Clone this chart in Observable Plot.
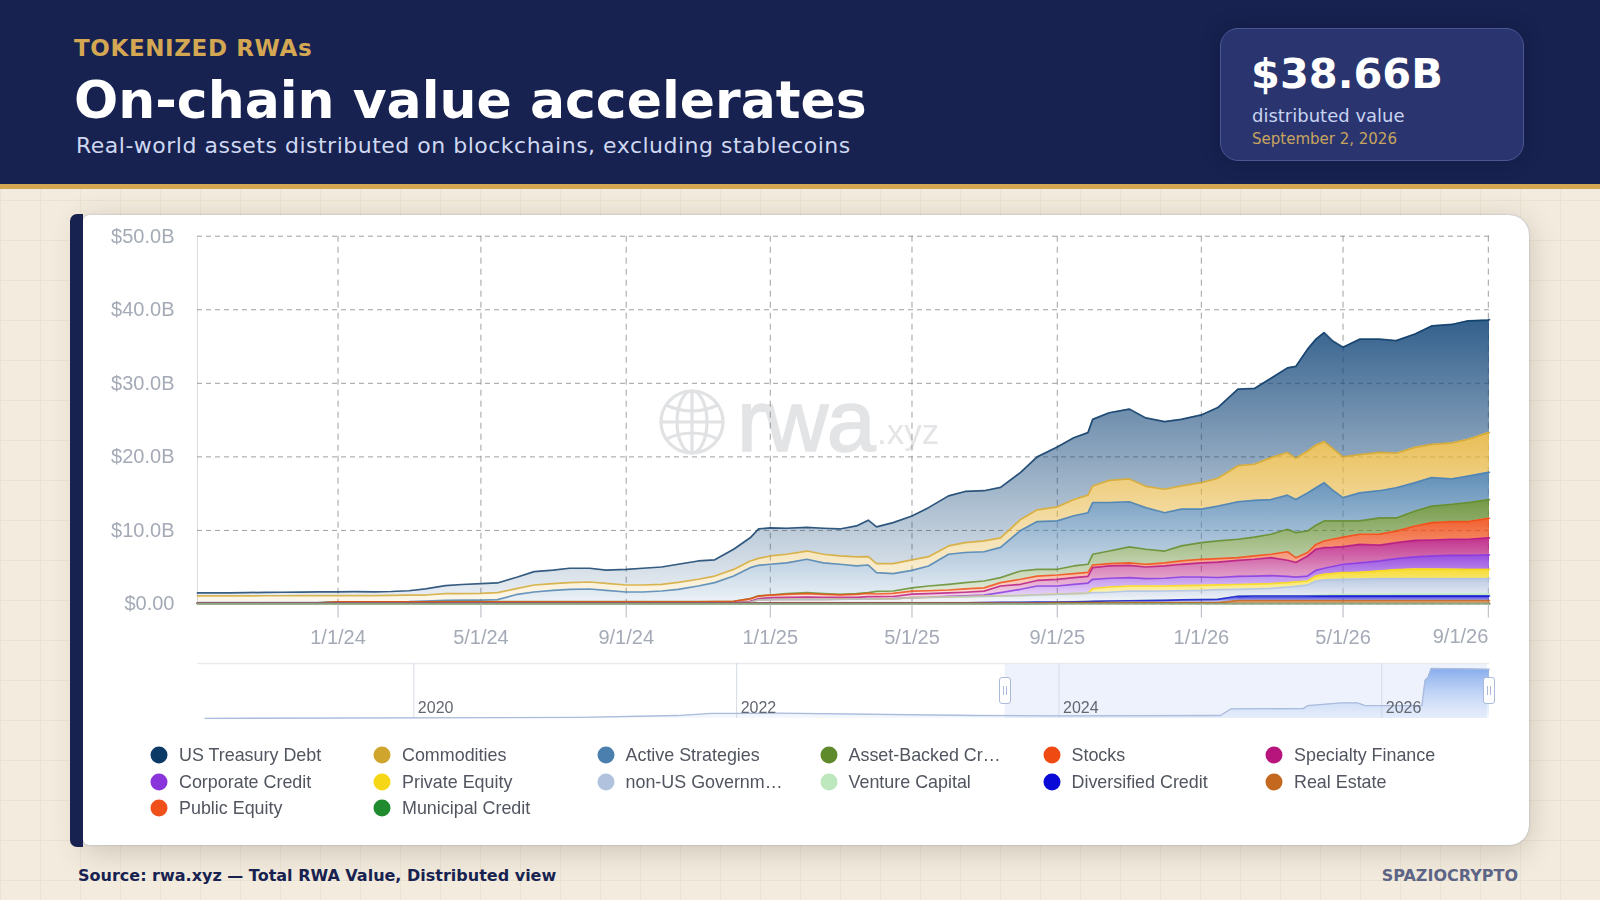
<!DOCTYPE html>
<html><head><meta charset="utf-8">
<script src="https://cdn.jsdelivr.net/npm/d3@7"></script>
<script src="https://cdn.jsdelivr.net/npm/@observablehq/plot@0.6"></script>
<style>
html,body{margin:0;padding:0;width:1600px;height:900px;overflow:hidden}
body{position:relative;font-family:"DejaVu Sans",sans-serif;background-color:#f3ecde;
background-image:linear-gradient(#ebe3d2 1px,transparent 1px),linear-gradient(90deg,#ebe3d2 1px,transparent 1px);
background-size:40px 40px;background-position:0 0}
.abs{position:absolute;white-space:nowrap}
#header{position:absolute;left:0;top:0;width:1600px;height:184px;background:#172250;border-bottom:5px solid #d4a853}
#kpi{position:absolute;left:1220px;top:28px;width:302px;height:131px;background:#2a356f;border:1.5px solid #4b5793;border-radius:18px;box-shadow:0 0 18px rgba(10,15,45,.35)}
#panel{position:absolute;left:83px;top:215px;width:1446px;height:630px;background:#fff;border-radius:6px 20px 20px 6px;box-shadow:0 6px 30px rgba(60,50,40,.22),0 0 2px rgba(90,110,170,.45)}
#bar{position:absolute;left:70px;top:214px;width:13px;height:633px;background:#172250;border-radius:7px 0 0 7px}
.chart{position:absolute;left:83px;filter:blur(.45px)}
.chart svg{display:block;background:transparent}
#legend div{position:absolute;font:17.9px "Liberation Sans",sans-serif;color:#50555f;white-space:nowrap;filter:blur(.3px);transform:translateY(-50%)}
#legend i{position:absolute;width:17px;height:17px;border-radius:50%;transform:translate(-50%,-50%)}
.handle{position:absolute;width:10px;height:25px;background:#fff;border:1.5px solid #aabad8;border-radius:3px;top:677px}
.handle:after{content:"";position:absolute;left:3px;top:8px;width:2px;height:9px;border-left:1px solid #aabad8;border-right:1px solid #aabad8}
</style></head><body>
<div id="header"></div>
<div class="abs" style="left:74px;top:34.5px;font-size:23px;font-weight:700;letter-spacing:.62px;color:#d4a853">TOKENIZED RWAs</div>
<div class="abs" style="left:74px;top:69px;font-size:52px;line-height:62px;font-weight:700;color:#fff">On-chain value accelerates</div>
<div class="abs" style="left:76px;top:133px;font-size:22px;letter-spacing:.5px;color:#cfd8f0">Real-world assets distributed on blockchains, excluding stablecoins</div>
<div id="kpi"></div>
<div class="abs" style="left:1251px;top:49px;font-size:41.5px;font-weight:700;color:#fff">$38.66B</div>
<div class="abs" style="left:1252px;top:105px;font-size:18px;color:#c9d3f2">distributed value</div>
<div class="abs" style="left:1252px;top:130px;font-size:15px;color:#c8a45e">September 2, 2026</div>
<div id="panel"></div>
<div id="bar"></div>
<svg class="abs" style="left:655px;top:385px;filter:blur(.5px)" width="74" height="74" viewBox="0 0 74 74" fill="none" stroke="#e1e2e4" stroke-width="3.2">
<circle cx="37" cy="37" r="31"/><ellipse cx="37" cy="37" rx="15" ry="31"/><path d="M37 6V68M6 37H68M11 20Q37 32 63 20M11 54Q37 42 63 54"/></svg>
<div class="abs" style="left:737px;top:370px;font:88px 'Liberation Sans',sans-serif;color:#e3e4e6;-webkit-text-stroke:1.6px #e3e4e6;letter-spacing:-1.6px;filter:blur(.6px)">rwa</div>
<div class="abs" style="left:877px;top:412px;font:35px 'Liberation Sans',sans-serif;color:#e4e5e7;filter:blur(.5px)">.xyz</div>
<div id="chart" class="chart" style="top:215px"></div>
<div id="mini" class="chart" style="top:655px"></div>
<div class="handle" style="left:999px"></div>
<div class="handle" style="left:1483px"></div>
<div id="legend"></div>
<div class="abs" style="left:78px;top:866px;font-size:16px;font-weight:700;color:#172250">Source: rwa.xyz — Total RWA Value, Distributed view</div>
<div class="abs" style="right:82px;top:866px;font-size:16px;font-weight:700;color:#5d6485">SPAZIOCRYPTO</div>
<script>
const dates = ["2023-09-04","2023-09-15","2023-10-01","2023-10-15","2023-11-01","2023-11-15","2023-12-01","2023-12-15",
"2024-01-01","2024-01-15","2024-02-01","2024-02-15","2024-03-01","2024-03-15","2024-04-01","2024-04-15","2024-05-01","2024-05-15","2024-06-01","2024-06-15","2024-07-01","2024-07-15","2024-08-01","2024-08-15","2024-09-01","2024-09-15","2024-10-01","2024-10-15","2024-11-01","2024-11-15","2024-12-01","2024-12-15","2024-12-22",
"2025-01-01","2025-01-15","2025-02-01","2025-02-15","2025-03-01","2025-03-15","2025-03-25","2025-04-01","2025-04-15","2025-05-01","2025-05-15","2025-06-01","2025-06-15","2025-07-01","2025-07-15","2025-08-01","2025-08-15","2025-09-01","2025-09-15","2025-09-27","2025-10-01","2025-10-15","2025-11-01","2025-11-15","2025-12-01","2025-12-15",
"2026-01-01","2026-01-15","2026-02-01","2026-02-15","2026-03-01","2026-03-15","2026-03-22","2026-04-01","2026-04-08","2026-04-15","2026-04-22","2026-05-01","2026-05-15","2026-06-01","2026-06-15","2026-07-01","2026-07-15","2026-08-01","2026-08-15","2026-09-01","2026-09-02"];

// Upper edge of each band, in $B (top band first)
const usTreasuryDebt = [1.50,1.50,1.52,1.55,1.58,1.60,1.62,1.64,1.65,1.68,1.66,1.70,1.80,2.05,2.50,2.65,2.76,2.86,3.67,4.40,4.60,4.86,4.86,4.60,4.70,4.86,5.03,5.40,5.85,6.00,7.44,9.00,10.20,
10.35,10.30,10.43,10.30,10.20,10.60,11.40,10.48,11.06,11.97,13.10,14.70,15.30,15.40,15.85,17.90,20.00,21.35,22.60,23.30,25.10,26.00,26.50,25.30,24.80,25.10,25.70,26.70,29.20,29.30,30.70,32.10,32.30,34.65,36.00,36.90,35.80,34.90,36.00,36.00,35.80,36.70,37.80,38.00,38.50,38.60,38.66];
const commodities = [1.10,1.10,1.10,1.10,1.12,1.12,1.13,1.13,1.14,1.14,1.15,1.16,1.20,1.22,1.42,1.42,1.45,1.54,2.13,2.58,2.76,2.90,2.99,2.80,2.58,2.58,2.68,2.95,3.36,3.80,4.70,5.85,6.20,
6.53,6.76,7.20,6.76,6.53,6.40,6.43,5.48,5.48,5.99,6.43,7.90,8.34,8.57,9.00,11.50,12.80,13.20,14.20,14.80,16.05,16.80,17.00,16.00,15.60,16.05,16.50,17.10,18.80,19.00,19.90,20.60,19.80,20.80,21.60,22.10,21.20,20.00,20.30,20.60,20.50,21.30,21.70,21.90,22.40,23.30,23.30];
const activeStrategies = [.18,.18,.18,.18,.18,.18,.18,.18,.30,.30,.30,.30,.32,.40,.50,.52,.54,.59,1.32,1.63,1.86,2.00,2.04,1.86,1.63,1.63,1.77,2.00,2.45,2.90,3.80,4.94,5.26,
5.40,5.60,6.08,5.60,5.40,5.17,5.30,4.26,4.12,4.58,5.17,6.76,7.00,7.10,7.70,10.00,11.20,11.30,12.00,12.40,13.80,13.80,13.90,13.10,12.40,12.90,12.90,13.30,13.90,14.10,14.20,14.80,14.20,15.10,15.80,16.50,15.50,14.46,15.10,15.40,15.80,16.50,17.20,17.00,17.40,17.90,17.90];
const assetBackedCredit = [.15,.15,.15,.15,.15,.15,.15,.15,.30,.30,.30,.30,.30,.30,.31,.31,.31,.31,.31,.31,.31,.31,.31,.31,.31,.31,.31,.31,.32,.33,.37,.72,1.10,
1.22,1.40,1.54,1.40,1.30,1.40,1.55,1.70,1.77,2.20,2.45,2.68,2.90,3.13,3.58,4.49,4.72,4.72,5.17,5.40,6.76,7.20,7.76,7.44,7.20,7.90,8.34,8.57,8.80,9.10,9.48,10.16,9.70,9.93,10.70,11.30,11.30,11.30,11.30,11.70,11.70,12.65,13.30,13.56,13.80,14.20,14.20];
const stocks = [.13,.13,.13,.13,.13,.13,.13,.13,.28,.28,.28,.28,.28,.28,.29,.29,.29,.29,.29,.29,.29,.29,.29,.29,.29,.29,.29,.29,.30,.31,.35,.70,1.08,
1.20,1.30,1.40,1.30,1.25,1.30,1.45,1.35,1.45,1.75,1.80,1.90,2.05,2.20,2.90,3.36,3.80,3.94,4.12,4.30,5.30,5.48,5.60,5.40,5.60,5.85,6.08,6.17,6.30,6.53,6.76,7.10,6.30,7.00,8.10,8.57,8.80,9.10,9.48,9.50,9.90,10.60,11.06,11.20,11.20,11.66,11.66];
const specialtyFinance = [.13,.13,.13,.13,.13,.13,.13,.13,.13,.13,.13,.13,.13,.13,.14,.14,.14,.14,.14,.14,.14,.14,.14,.14,.14,.14,.14,.14,.15,.16,.18,.35,.72,
.86,.90,.95,.92,.90,.90,1.00,1.00,1.02,1.35,1.40,1.50,1.60,1.75,2.45,2.68,3.20,3.36,3.58,3.75,4.94,5.17,5.26,5.03,5.17,5.40,5.60,5.70,5.94,6.08,6.30,5.95,5.65,6.53,7.44,7.66,7.70,7.80,8.10,8.00,8.34,8.66,8.70,8.80,8.80,9.00,9.00];
const corporateCredit = [.13,.13,.13,.13,.13,.13,.13,.13,.13,.13,.13,.13,.13,.13,.13,.13,.13,.13,.13,.13,.13,.13,.13,.13,.13,.13,.13,.13,.14,.15,.17,.30,.60,
.62,.63,.64,.64,.65,.65,.68,.68,.72,.87,.92,1.05,1.10,1.20,1.54,2.00,2.45,2.45,2.68,2.85,3.36,3.50,3.58,3.44,3.50,3.67,3.67,3.60,3.75,3.80,3.85,3.75,3.65,3.80,4.58,4.86,5.10,5.40,5.60,5.85,6.16,6.40,6.53,6.60,6.60,6.67,6.67];
const privateEquity = [.13,.13,.13,.13,.13,.13,.13,.13,.13,.13,.13,.13,.13,.13,.13,.13,.13,.13,.13,.13,.13,.13,.13,.13,.13,.13,.13,.13,.13,.14,.16,.25,.55,
.61,.62,.63,.64,.65,.66,.67,.69,.71,.86,.91,.96,1.01,1.06,1.10,1.16,1.26,1.33,1.41,1.49,2.08,2.31,2.45,2.45,2.45,2.50,2.54,2.60,2.65,2.70,2.76,2.90,3.00,3.13,3.80,4.04,4.15,4.26,4.30,4.49,4.67,4.76,4.75,4.72,4.70,4.70,4.70];
const nonUsGovernment = [.12,.12,.12,.12,.12,.12,.12,.12,.12,.12,.12,.12,.12,.12,.12,.12,.12,.12,.12,.12,.12,.12,.12,.12,.12,.12,.12,.12,.12,.13,.15,.24,.54,
.60,.61,.62,.63,.64,.65,.66,.68,.70,.85,.90,.95,1.00,1.05,1.09,1.15,1.25,1.32,1.40,1.48,1.54,1.60,1.77,1.75,1.77,1.80,1.85,1.95,2.00,2.05,2.13,2.31,2.40,2.58,3.13,3.27,3.32,3.36,3.40,3.44,3.44,3.44,3.44,3.44,3.44,3.44,3.44];
const ventureCapital = [.115,.115,.115,.115,.115,.115,.115,.115,.115,.115,.115,.115,.115,.115,.115,.115,.115,.115,.115,.115,.115,.115,.115,.115,.115,.115,.115,.115,.115,.115,.12,.13,.14,
.18,.18,.18,.18,.18,.18,.18,.18,.18,.18,.18,.18,.18,.22,.24,.26,.27,.28,.32,.35,.37,.43,.46,.49,.52,.57,.62,.66,1.07,1.11,1.11,1.11,1.11,1.13,1.20,1.25,1.28,1.30,1.30,1.32,1.33,1.34,1.35,1.35,1.35,1.35,1.35];
const diversifiedCredit = [.11,.11,.11,.11,.11,.11,.11,.11,.11,.11,.11,.11,.11,.11,.11,.11,.11,.11,.11,.11,.11,.11,.11,.11,.11,.11,.11,.11,.11,.11,.11,.11,.11,
.16,.16,.16,.16,.16,.16,.16,.16,.16,.16,.16,.16,.16,.20,.22,.24,.25,.26,.30,.33,.35,.41,.44,.47,.50,.55,.60,.64,1.05,1.09,1.09,1.09,1.09,1.09,1.09,1.09,1.09,1.09,1.09,1.09,1.09,1.09,1.09,1.09,1.09,1.09,1.09];
const realEstate = [.10,.10,.10,.10,.10,.10,.10,.10,.10,.10,.10,.10,.10,.10,.10,.10,.10,.10,.10,.10,.10,.10,.10,.10,.10,.10,.10,.10,.10,.10,.10,.10,.10,
.12,.12,.12,.12,.12,.12,.12,.12,.12,.12,.12,.12,.12,.12,.12,.12,.12,.20,.20,.20,.20,.20,.20,.20,.20,.20,.20,.20,.45,.45,.45,.45,.45,.45,.45,.45,.45,.45,.45,.45,.45,.45,.45,.45,.45,.45,.45];
const publicEquity = [.05,.05,.05,.05,.05,.05,.05,.05,.05,.05,.05,.05,.05,.05,.05,.05,.05,.05,.05,.05,.05,.05,.05,.05,.05,.05,.05,.05,.05,.05,.05,.05,.05,
.05,.05,.05,.05,.05,.05,.05,.05,.05,.05,.05,.05,.05,.05,.05,.05,.05,.08,.08,.08,.08,.08,.08,.08,.08,.08,.08,.08,.08,.08,.08,.08,.08,.08,.08,.08,.08,.08,.08,.08,.08,.08,.08,.08,.08,.08,.08];
const municipalCredit = [.03,.03,.03,.03,.03,.03,.03,.03,.03,.03,.03,.03,.03,.03,.03,.03,.03,.03,.03,.03,.03,.03,.03,.03,.03,.03,.03,.03,.03,.03,.03,.03,.03,
.03,.03,.03,.03,.03,.03,.03,.03,.03,.03,.03,.03,.03,.03,.03,.03,.03,.04,.04,.04,.04,.04,.04,.04,.04,.04,.04,.04,.04,.04,.04,.04,.04,.04,.04,.04,.04,.04,.04,.04,.04,.04,.04,.04,.04,.04,.04];

const seriesNames = ["US Treasury Debt","Commodities","Active Strategies","Asset-Backed Credit","Stocks","Specialty Finance","Corporate Credit","Private Equity","non-US Government","Venture Capital","Diversified Credit","Real Estate","Public Equity","Municipal Credit"];
const legendLabels = ["US Treasury Debt","Commodities","Active Strategies","Asset-Backed Cr…","Stocks","Specialty Finance","Corporate Credit","Private Equity","non-US Governm…","Venture Capital","Diversified Credit","Real Estate","Public Equity","Municipal Credit"];
const seriesColors = ["#0b3a66","#cfa52e","#4a7fae","#5f8a2b","#ef4a12","#b8157c","#8a35dc","#f6d716","#b0c2de","#bde8bd","#0a0ad6","#c4681f","#f0501a","#1f8a2e"];
const bandColors = ["#174a7c","#e6b53f","#4a7fae","#5f8a2b","#ef4a12","#b8157c","#8a35dc","#f6d716","#b0c2de","#bde8bd","#0a0ad6","#c4681f","#f0501a","#1f8a2e"];
const levels = [usTreasuryDebt,commodities,activeStrategies,assetBackedCredit,stocks,specialtyFinance,corporateCredit,privateEquity,nonUsGovernment,ventureCapital,diversifiedCredit,realEstate,publicEquity,municipalCredit];

const rows = [];
seriesNames.forEach((name,i)=>dates.forEach((d,j)=>{
  const below = i+1<levels.length ? levels[i+1][j] : 0;
  rows.push({date:new Date(d),series:name,value:Math.max(0,+(levels[i][j]-below).toFixed(3)),fill:`url(#band${i})`,line:seriesColors[i]});
}));

const stackOrder = seriesNames.slice().reverse();
const xStart = new Date("2023-09-04"), xEnd = new Date("2026-09-02");
const xTicks = ["2024-01-01","2024-05-01","2024-09-01","2025-01-01","2025-05-01","2025-09-01","2026-01-01","2026-05-01","2026-09-01"].map(d=>new Date(d));
const lastTick = xTicks[xTicks.length-1];
const yTicks = [0,10,20,30,40,50];
const fmtDate = d=>`${d.getUTCMonth()+1}/${d.getUTCDate()}/${String(d.getUTCFullYear()).slice(2)}`;
const fmtVal = v=>v===0?"$0.00":`$${v}.0B`;
const axisInk = "#a4aab6";

const defs = () => {
  const s = d3.create("svg:defs");
  bandColors.forEach((c,i)=>{
    const g = s.append("linearGradient").attr("id",`band${i}`).attr("x1",0).attr("y1",0).attr("x2",0).attr("y2",1);
    g.append("stop").attr("offset","0%").attr("stop-color",c).attr("stop-opacity",.88);
    g.append("stop").attr("offset","100%").attr("stop-color",c).attr("stop-opacity",.1);
  });
  return s.node();
};

const chart = Plot.plot({
  width:1446,height:435,marginLeft:114,marginRight:40,marginTop:20.7,marginBottom:46.5,
  style:{fontFamily:"'Liberation Sans',sans-serif",background:"transparent",overflow:"visible"},
  x:{type:"utc",domain:[xStart,xEnd]},
  y:{domain:[0,50]},
  color:{type:"identity"},
  marks:[
    defs,
    Plot.ruleX([xStart],{stroke:"#dcdde0"}),
    Plot.gridY(yTicks,{stroke:"#777",strokeOpacity:.7,strokeDasharray:"5 4"}),
    Plot.gridX(xTicks,{stroke:"#777",strokeOpacity:.7,strokeDasharray:"6 5"}),
    Plot.areaY(rows,Plot.stackY({x:"date",y:"value",z:"series",fill:"fill",order:stackOrder})),
    Plot.lineY(rows,Plot.stackY2({x:"date",y:"value",z:"series",stroke:"line",order:stackOrder,strokeWidth:1.7,strokeOpacity:.8})),
    Plot.ruleY([0],{stroke:"#c8cace"}),
    Plot.axisY({ticks:yTicks,tickFormat:fmtVal,tickSize:0,tickPadding:23,fontSize:20,fill:axisInk,label:null}),
    Plot.axisX({ticks:xTicks,tickFormat:d=>d===lastTick?"":fmtDate(d),tickSize:14,tickPadding:11.5,fontSize:20,fill:axisInk,stroke:"#b4b7bd",label:null}),
    Plot.text([lastTick],{x:d=>d,text:fmtDate,frameAnchor:"bottom",dy:33,lineAnchor:"middle",textAnchor:"end",fontSize:20,fill:axisInk})
  ]
});
document.getElementById("chart").append(chart);

// Overview slider
const miniDates = ["2018-09-15","2021-01-10","2021-08-20","2021-11-05","2022-01-01","2022-04-01","2023-06-25","2024-01-01","2025-01-01","2025-01-25","2025-07-07","2025-07-18","2025-10-01","2025-11-07","2025-11-24","2026-04-02","2026-04-09","2026-04-16","2026-04-23","2026-09-02"];
const miniValues = [0.1,0.8,2.3,3.9,3.9,4.1,2.3,2.1,2.3,7.5,7.6,10,12,12,10,10,29.4,31.9,38.66,38];
const miniRows = miniDates.map((d,i)=>({date:new Date(d),value:miniValues[i]}));
const miniYears = ["2020","2022","2024","2026"];
const miniYearDates = miniYears.map(y=>new Date(`${y}-01-01`));
const windowStart = new Date("2023-09-01"), windowEnd = new Date("2026-08-28");
const miniMax = 42.5;
const miniDefs = () => {
  const s = d3.create("svg:defs");
  const g = s.append("linearGradient").attr("id","miniFill").attr("x1",0).attr("y1",0).attr("x2",0).attr("y2",1);
  g.append("stop").attr("offset","0%").attr("stop-color","#7fa8ec").attr("stop-opacity",.95);
  g.append("stop").attr("offset","100%").attr("stop-color","#b9cff5").attr("stop-opacity",.15);
  return s.node();
};
const mini = Plot.plot({
  width:1446,height:70,marginLeft:114,marginRight:40,marginTop:8,marginBottom:7,
  style:{fontFamily:"'Liberation Sans',sans-serif",background:"transparent",overflow:"visible"},
  x:{type:"utc",domain:[new Date("2018-08-29"),new Date("2026-09-02")],axis:null},
  y:{domain:[0,miniMax],axis:null},
  marks:[
    miniDefs,
    Plot.rectY([0],{x1:()=>windowStart,x2:()=>windowEnd,y1:0,y2:miniMax,fill:"#edf2fc"}),
    Plot.ruleY([miniMax],{stroke:"#e9ebf0",strokeWidth:1.5}),
    Plot.ruleX(miniYearDates,{stroke:"#d6dbe4"}),
    Plot.areaY(miniRows,{x:"date",y:"value",fill:"url(#miniFill)"}),
    Plot.lineY(miniRows,{x:"date",y:"value",stroke:"#aabbdc",strokeWidth:1.3}),
    Plot.text(miniYearDates,{x:d=>d,text:(d,i)=>miniYears[i],frameAnchor:"bottom",dx:4,dy:-6,textAnchor:"start",fontSize:16,fill:"#63676f"})
  ]
});
document.getElementById("mini").append(mini);

// Legend
const legendX = [159,382,605.5,828.5,1051.5,1274];
const legendY = [755,781.5,808];
const leg = document.getElementById("legend");
legendLabels.forEach((t,i)=>{
  const c = i%6, r = Math.floor(i/6);
  const dot = document.createElement("i");
  dot.style.cssText = `left:${legendX[c]}px;top:${legendY[r]}px;background:${seriesColors[i]}`;
  const lab = document.createElement("div");
  lab.style.cssText = `left:${legendX[c]+20}px;top:${legendY[r]}px`;
  lab.textContent = t;
  leg.append(dot,lab);
});
</script>
</body></html>
